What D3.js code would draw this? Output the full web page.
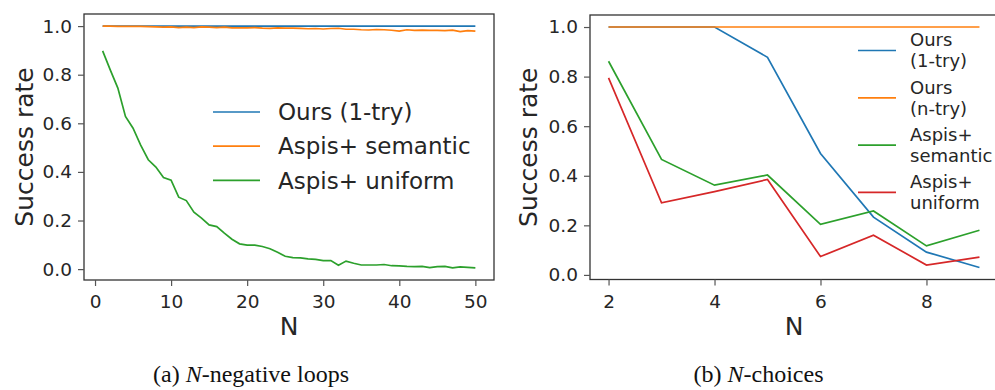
<!DOCTYPE html>
<html>
<head>
<meta charset="utf-8">
<script src="https://cdn.jsdelivr.net/npm/d3@7"></script>
<style>
  body { margin: 0; background: #fff; }
  svg { display: block; font-family: "DejaVu Sans", sans-serif; }
  .tick text { fill: #262626; }
  .caption { font-family: "Liberation Serif", "DejaVu Serif", serif; fill: #111; }
</style>
</head>
<body>
<svg id="chart" width="995" height="390"></svg>
<script>
// ---- panel (a): N-negative loops ----
const loopsN = d3.range(1, 51)
const loopsOurs = loopsN.map(() => 1.0)
const loopsSemantic = [1.0, 1.0, 0.999, 0.999, 0.999, 0.999, 0.998, 0.997, 0.996, 0.997,
  0.994, 0.996, 0.994, 0.997, 0.996, 0.994, 0.996, 0.993, 0.993, 0.993,
  0.994, 0.992, 0.991, 0.993, 0.992, 0.992, 0.991, 0.989, 0.990, 0.988,
  0.990, 0.991, 0.987, 0.987, 0.985, 0.984, 0.986, 0.985, 0.983, 0.979,
  0.985, 0.982, 0.983, 0.982, 0.982, 0.981, 0.983, 0.977, 0.981, 0.979]
const loopsUniform = [0.898, 0.82, 0.745, 0.628, 0.58, 0.51, 0.45, 0.42, 0.377, 0.366,
  0.296, 0.282, 0.234, 0.21, 0.182, 0.175, 0.148, 0.123, 0.104, 0.099,
  0.099, 0.093, 0.084, 0.069, 0.053, 0.047, 0.046, 0.042, 0.04, 0.035,
  0.035, 0.016, 0.033, 0.024, 0.017, 0.017, 0.017, 0.019, 0.014, 0.013,
  0.011, 0.01, 0.011, 0.006, 0.01, 0.011, 0.005, 0.009, 0.007, 0.005]
const loopsXTicks = [0, 10, 20, 30, 40, 50]

// ---- panel (b): N-choices ----
const choicesN = [2, 3, 4, 5, 6, 7, 8, 9]
const choicesOurs1 = [1.0, 1.0, 1.0, 0.878, 0.49, 0.233, 0.092, 0.03]
const choicesOursN = [1.0, 1.0, 1.0, 1.0, 1.0, 1.0, 1.0, 1.0]
const choicesSemantic = [0.862, 0.466, 0.362, 0.403, 0.204, 0.258, 0.117, 0.18]
const choicesUniform = [0.795, 0.291, 0.336, 0.385, 0.074, 0.16, 0.04, 0.072]
const choicesXTicks = [2, 4, 6, 8]

const yTicks = [0, 0.2, 0.4, 0.6, 0.8, 1.0]
const colors = {blue: '#1f77b4', orange: '#ff7f0e', green: '#2ca02c', red: '#d62728'}

const svg = d3.select('#chart')

// matplotlib-like 5% margins
function padded(lo, hi) {
  const m = (hi - lo) * 0.05
  return [lo - m, hi + m]
}

function panel(opts) {
  const {left, right, top, bottom, xs, series, xTicks, legend, caption} = opts
  const allY = series.flatMap(s => s.values)
  const x = d3.scaleLinear().domain(padded(d3.min(xs), d3.max(xs))).range([left, right])
  const y = d3.scaleLinear().domain(padded(d3.min(allY), d3.max(allY))).range([bottom, top])

  const g = svg.append('g')

  // frame
  g.append('rect')
    .attr('x', left).attr('y', top)
    .attr('width', right - left).attr('height', bottom - top)
    .attr('fill', 'none').attr('stroke', '#333').attr('stroke-width', 1.3)

  const xAxis = g.append('g')
    .attr('transform', `translate(0,${bottom})`)
    .call(d3.axisBottom(x).tickValues(xTicks).tickFormat(d3.format('d')).tickSize(6).tickPadding(9))
  const yAxis = g.append('g')
    .attr('transform', `translate(${left},0)`)
    .call(d3.axisLeft(y).tickValues(yTicks).tickFormat(d3.format('.1f')).tickSize(6).tickPadding(6))
  for (const ax of [xAxis, yAxis]) {
    ax.select('.domain').remove()
    ax.selectAll('.tick line').attr('stroke', '#555').attr('stroke-width', 1.2)
    ax.selectAll('.tick text').attr('font-size', 18.5).attr('font-family', '"DejaVu Sans", sans-serif')
  }

  const line = d3.line().x((d, i) => x(xs[i])).y(d => y(d))
  g.selectAll('path.series')
    .data(series)
    .join('path')
    .attr('class', 'series')
    .attr('d', d => line(d.values))
    .attr('fill', 'none')
    .attr('stroke', d => d.color)
    .attr('stroke-width', 1.7)

  // axis labels
  g.append('text')
    .attr('x', (left + right) / 2).attr('y', bottom + 55)
    .attr('text-anchor', 'middle').attr('font-size', 25).attr('fill', '#262626')
    .text('N')
  g.append('text')
    .attr('transform', `translate(${opts.yLabelX},${(top + bottom) / 2}) rotate(-90)`)
    .attr('text-anchor', 'middle').attr('font-size', 25).attr('fill', '#262626')
    .text('Success rate')

  // legend
  const lg = g.append('g')
  series.forEach((s, i) => {
    const cy = legend.y0 + i * legend.step
    lg.append('line')
      .attr('x1', legend.x).attr('x2', legend.x + legend.len)
      .attr('y1', cy).attr('y2', cy)
      .attr('stroke', s.color).attr('stroke-width', 1.7)
    const lines = s.label
    const t = lg.append('text')
      .attr('x', legend.x + legend.len + legend.gap)
      .attr('font-size', legend.size).attr('fill', '#262626')
    lines.forEach((txt, j) => {
      t.append('tspan')
        .attr('x', legend.x + legend.len + legend.gap)
        .attr('y', cy + (j - (lines.length - 1) / 2) * legend.lineH)
        .attr('dy', '0.36em')
        .text(txt)
    })
  })

  // caption
  const c = svg.append('text')
    .attr('class', 'caption')
    .attr('x', caption.x).attr('y', 382)
    .attr('text-anchor', 'middle').attr('font-size', 24)
  c.append('tspan').text('(' + caption.tag + ') ')
  c.append('tspan').attr('font-style', 'italic').text('N')
  c.append('tspan').text(caption.rest)
}

panel({
  left: 84, right: 494, top: 14, bottom: 280,
  xs: loopsN,
  xTicks: loopsXTicks,
  yLabelX: 33,
  series: [
    {values: loopsOurs, color: colors.blue, label: ['Ours (1-try)']},
    {values: loopsSemantic, color: colors.orange, label: ['Aspis+ semantic']},
    {values: loopsUniform, color: colors.green, label: ['Aspis+ uniform']}
  ],
  legend: {x: 213, len: 47, gap: 18, y0: 112, step: 34.2, size: 23, lineH: 0},
  caption: {x: 251, tag: 'a', rest: '-negative loops'}
})

panel({
  left: 590, right: 998, top: 15, bottom: 279.5,
  xs: choicesN,
  xTicks: choicesXTicks,
  yLabelX: 537,
  series: [
    {values: choicesOurs1, color: colors.blue, label: ['Ours', '(1-try)']},
    {values: choicesOursN, color: colors.orange, label: ['Ours', '(n-try)']},
    {values: choicesSemantic, color: colors.green, label: ['Aspis+', 'semantic']},
    {values: choicesUniform, color: colors.red, label: ['Aspis+', 'uniform']}
  ],
  legend: {x: 858, len: 38, gap: 14, y0: 50.5, step: 47.3, size: 18, lineH: 21},
  caption: {x: 758.5, tag: 'b', rest: '-choices'}
})
</script>
</body>
</html>
